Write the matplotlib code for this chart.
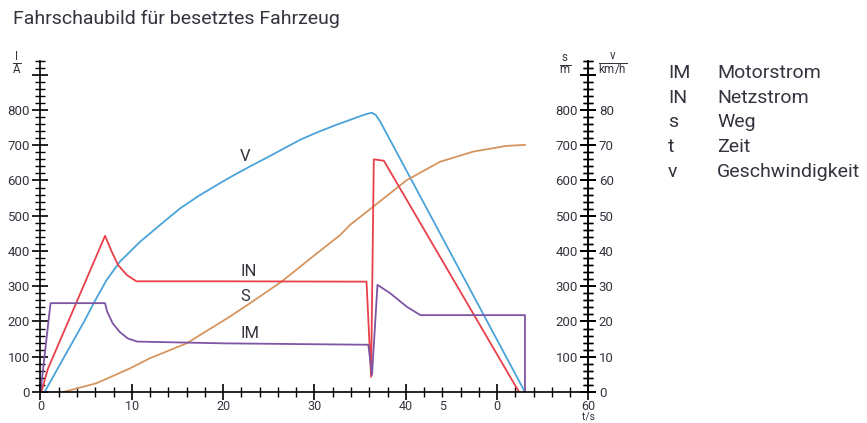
import matplotlib
matplotlib.use("Agg")
import matplotlib.pyplot as plt
from matplotlib.ticker import MultipleLocator, NullFormatter

# ---------------- data ----------------
# Netzstrom IN [A]
t_in = [0.1, 0.8, 7.07, 7.8, 8.5, 9.45, 10.5, 20.0, 35.7, 36.2, 36.5, 37.6, 52.4]
i_in = [0, 65, 443, 398, 360, 332, 314, 314, 313, 43, 660, 656, 0]

# Motorstrom IM [A]
t_im = [0.0, 1.1, 7.07, 7.3, 7.9, 8.65, 9.55, 10.6, 20.0, 35.9, 36.3, 36.9, 38.3, 40.1, 41.6, 53.05, 53.05]
i_im = [0, 252, 252, 228, 195, 171, 152, 143, 138, 134, 48, 304, 280, 242, 218, 218, 0]

# Geschwindigkeit v [km/h]
t_v = [0.45, 2.5, 4.87, 5.78, 7.25, 8.7, 10.9, 13.1, 15.3, 17.3, 19.3, 21.1, 22.95,
       24.8, 26.6, 28.4, 30.25, 32.1, 33.9, 35.3, 35.9, 36.3, 36.7, 37.2, 53.05]
v_kmh = [0, 9.5, 20.4, 25.0, 31.8, 37.0, 42.6, 47.4, 52.1, 55.6, 58.7, 61.4, 64.0,
         66.5, 69.0, 71.5, 73.6, 75.5, 77.2, 78.5, 79.0, 79.2, 78.6, 76.7, 0]

# Weg s [m]
t_s = [2.5, 6.15, 9.8, 12.0, 16.0, 20.75, 22.95, 26.4, 30.25, 32.8, 33.9, 36.45,
       40.1, 43.75, 47.4, 51.0, 53.05]
s_m = [0, 25, 67, 96, 138, 214, 252, 313, 393, 445, 474, 526,
       601, 653, 682, 698, 701]

x_major = [0, 10, 20, 30, 40, 50, 60]
x_major_labels = ["0", "10", "20", "30", "40", "0", "60"]
x_extra_pos = [44]
x_extra_labels = ["5"]
y_major = [0, 100, 200, 300, 400, 500, 600, 700, 800, 900]
y_labels_I = ["0", "100", "200", "300", "400", "500", "600", "700", "800", ""]
y_labels_s = ["", "100", "200", "300", "400", "500", "600", "700", "800", ""]
y_labels_v = ["0", "10", "20", "30", "40", "50", "60", "70", "80", ""]

legend_sym = ["IM", "IN", "s", "t", "v"]
legend_txt = ["Motorstrom", "Netzstrom", "Weg", "Zeit", "Geschwindigkeit"]

# ---------------- style ----------------
FONT = ["Roboto", "DejaVu Sans"]
plt.rcParams["font.family"] = FONT
plt.rcParams["mathtext.fontset"] = "custom"
plt.rcParams["mathtext.rm"] = "Roboto"
TXT = "#34343f"
C_BLUE = "#4aa3d9"
C_RED = "#e8404a"
C_PURP = "#7d55a3"
C_ORNG = "#d6955f"

fig = plt.figure(figsize=(8.67, 4.23), dpi=100)
ax = fig.add_axes([0.0467, 0.0733, 0.632, 0.7834])

lw = 1.3
ax.plot(t_v, [v * 10 for v in v_kmh], color=C_BLUE, lw=lw)
ax.plot(t_s, s_m, color=C_ORNG, lw=lw)
ax.plot(t_in, i_in, color=C_RED, lw=lw)
ax.plot(t_im, i_im, color=C_PURP, lw=lw)

ax.set_xlim(0, 60)
ax.set_ylim(0, 940)
ax.spines["top"].set_visible(False)
for sp in ["left", "bottom", "right"]:
    ax.spines[sp].set_linewidth(1.2)

ax.set_xticks(x_major, x_major_labels)
minor_x = list(range(0, 61, 2))
minor_lab = [x_extra_labels[x_extra_pos.index(p)] if p in x_extra_pos else "" for p in minor_x]
ax.set_xticks(minor_x, minor_lab, minor=True)
ax.set_yticks(y_major, y_labels_I)
ax.yaxis.set_minor_locator(MultipleLocator(20))
ax.yaxis.set_minor_formatter(NullFormatter())

tp = dict(direction="inout", colors="black", labelcolor=TXT)
ax.tick_params(axis="y", which="major", length=11, width=1.2, pad=2, labelsize=9.5, **tp)
ax.tick_params(axis="y", which="minor", length=6.5, width=1.0, **tp)
ax.tick_params(axis="x", which="major", length=11, width=1.2, pad=0, labelsize=9, **tp)
ax.tick_params(axis="x", which="minor", length=6.5, width=1.0, pad=2.25, labelsize=9, **tp)

# right axis: v labels on the right side
ax2 = ax.twinx()
ax2.set_ylim(0, 940)
ax2.set_yticks(y_major, y_labels_v)
ax2.yaxis.set_minor_locator(MultipleLocator(20))
ax2.yaxis.set_minor_formatter(NullFormatter())
ax2.tick_params(axis="y", which="major", length=11, width=1.2, pad=2, labelsize=9.5, **tp)
ax2.tick_params(axis="y", which="minor", length=6.5, width=1.0, **tp)
for sp in ["top", "left", "bottom"]:
    ax2.spines[sp].set_visible(False)
ax2.spines["right"].set_linewidth(1.2)

# right axis: s labels on the left side of the right spine
ax3 = ax.twinx()
ax3.set_ylim(0, 940)
ax3.yaxis.tick_left()
ax3.spines["left"].set_position(("axes", 1.0))
ax3.set_yticks(y_major, y_labels_s)
ax3.yaxis.set_minor_locator(MultipleLocator(20))
ax3.yaxis.set_minor_formatter(NullFormatter())
ax3.tick_params(axis="y", which="major", length=11, width=1.2, pad=2, labelsize=9.5, **tp)
ax3.tick_params(axis="y", which="minor", length=6.5, width=1.0, **tp)
for sp in ["top", "right", "bottom", "left"]:
    ax3.spines[sp].set_visible(False)

ax.set_xlabel("t/s", color=TXT, fontsize=7.5, labelpad=0)
ax.xaxis.set_label_coords(1.0, -0.058)

# curve labels
lab = dict(color=TXT, fontsize=12, ha="center", va="center")
ax.text(22.4, 667, "V", **lab)
ax.text(22.8, 341, "IN", **lab)
ax.text(22.4, 270, "S", **lab)
ax.text(22.9, 167, "IM", **lab)

# axis unit fractions
fig.text(0.019, 0.849, r"$\frac{\mathrm{I}}{\mathrm{A}}$", color=TXT, fontsize=12, ha="center", va="center")
fig.text(0.652, 0.846, r"$\frac{\mathrm{s}}{\mathrm{m}}$", color=TXT, fontsize=12, ha="center", va="center")
fig.text(0.707, 0.846, r"$\frac{\mathrm{v}}{\mathrm{km/h}}$", color=TXT, fontsize=12, ha="center", va="center")

# title
fig.text(0.015, 0.955, "Fahrschaubild für besetztes Fahrzeug", color=TXT, fontsize=14,
         ha="left", va="center")

# legend text
rows_y = [73, 98, 122, 147, 172]
for sym, txt, py in zip(legend_sym, legend_txt, rows_y):
    fig.text(668 / 867, 1 - py / 423, sym, color=TXT, fontsize=14, ha="left", va="center")
    fig.text(717 / 867, 1 - py / 423, txt, color=TXT, fontsize=14, ha="left", va="center")

fig.savefig("out.png", dpi=100)
